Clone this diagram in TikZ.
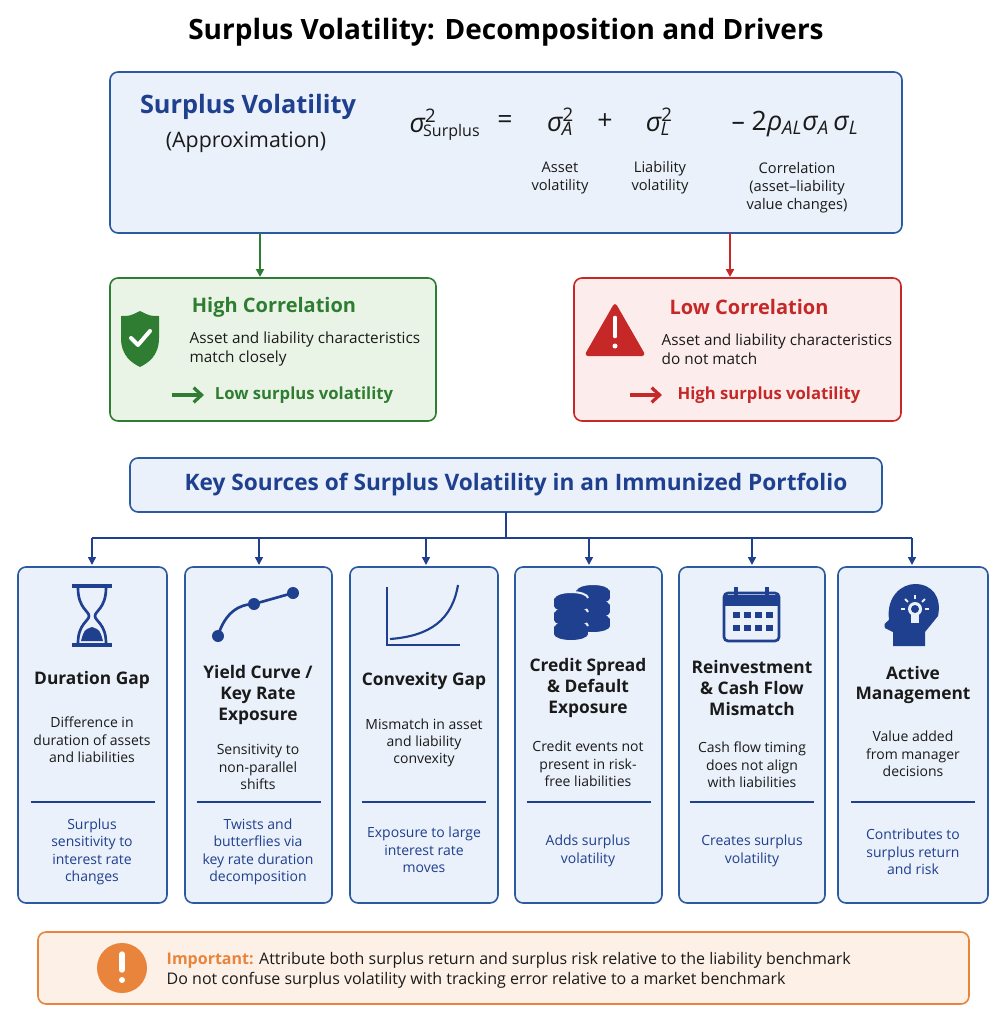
\documentclass[tikz,border=0pt]{standalone}
\usepackage{fontspec}
\setmainfont{Open Sans}
\usetikzlibrary{arrows.meta,positioning,calc}
\definecolor{navy}{HTML}{1F3F8F}
\definecolor{boxblue}{HTML}{2C5AA0}
\definecolor{fillblue}{HTML}{EAF1FA}
\definecolor{okgreen}{HTML}{2E7D32}
\definecolor{fillgreen}{HTML}{EAF4E6}
\definecolor{badred}{HTML}{C62828}
\definecolor{fillred}{HTML}{FCEDEC}
\definecolor{warnorange}{HTML}{E8843C}
\definecolor{fillorange}{HTML}{FDF0E6}
\definecolor{ink}{HTML}{1A1A1A}
\newcommand{\sig}[2]{{\itshape σ}\textsuperscript{#1}\kern-0.45em\textsubscript{\itshape #2}}
\begin{document}
\begin{tikzpicture}[x=0.75pt,y=-0.75pt,
    panel/.style ={draw=boxblue, line width=1.2pt, fill=fillblue, rounded corners=6pt},
    card/.style ={draw=boxblue, line width=1.2pt, fill=fillblue, rounded corners=6pt},
    card_title/.style ={font=\bfseries\fontsize{13}{15.5}\selectfont, text=ink, align=center},
    card_text/.style ={font=\fontsize{10.5}{13}\selectfont, text=ink, align=center},
    card_note/.style ={font=\fontsize{10.5}{13}\selectfont, text=navy, align=center},
    small_label/.style ={font=\fontsize{11}{13.5}\selectfont, text=ink, align=center},
    formula/.style ={font=\fontsize{20}{24}\selectfont, text=ink},
    line/.style ={draw=navy, line width=1.2pt, -{Triangle[length=6pt,width=6pt]}},
    icon/.style ={navy, line width=2pt}]
  \useasboundingbox (0,0) rectangle (1007,1024);
  % title
  \node[font=\bfseries\fontsize{21}{25}\selectfont, text=black] (title) at (506,32)
    {Surplus Volatility: Decomposition and Drivers};
  % formula panel
  \draw[panel] (110,72) rectangle (902,233);
  \node[font=\bfseries\fontsize{19}{22}\selectfont, text=navy] (svname) at (248,107) {Surplus Volatility};
  \node[font=\fontsize{16}{19}\selectfont, text=ink] (approx) at (246,142) {(Approximation)};
  \node[formula] (sigS) at (445,125) {{\itshape σ}\textsuperscript{2}\kern-0.5em\textsubscript{\fontsize{12}{14}\selectfont Surplus}};
  \node[formula] (eq) at (505,122) {=};
  \node[formula] (sigA) at (560,122) {\sig{2}{A}};
  \node[formula] (plus) at (605,122) {+};
  \node[formula] (sigL) at (658,122) {\sig{2}{L}};
  \node[formula] (cov) at (795,124) {– 2{\itshape ρ}\textsubscript{\itshape AL}{\itshape σ}\textsubscript{\itshape A}\,{\itshape σ}\textsubscript{\itshape L}};
  \node[small_label] (lblA) at (560,178) {Asset\\volatility};
  \node[small_label] (lblL) at (660,178) {Liability\\volatility};
  \node[small_label] (lblC) at (797,188) {Correlation\\(asset--liability\\value changes)};
  % high / low correlation boxes
  \draw[draw=okgreen, line width=1.2pt, fill=fillgreen, rounded corners=6pt] (110,278) rectangle (436,421);
  \draw[draw=badred, line width=1.2pt, fill=fillred, rounded corners=6pt] (574,278) rectangle (901,421);
  \coordinate (topL) at (260,233);
  \coordinate (topR) at (730,233);
  \coordinate (hiTop) at (260,277);
  \coordinate (loTop) at (730,277);
  \draw[line, draw=okgreen, line width=1.6pt] (topL) -- (hiTop);
  \draw[line, draw=badred, line width=1.6pt] (topR) -- (loTop);
  % shield
  \fill[okgreen] (140,311) .. controls (150,316) .. (159,316) -- (159,338)
    .. controls (159,356) and (148,363) .. (140,367) .. controls (132,363) and (121,356) .. (121,338)
    -- (121,316) .. controls (130,316) .. (140,311) -- cycle;
  \draw[white, line width=3pt, line cap=round, line join=round] (131,338) -- (138,345) -- (150,331);
  \node[font=\bfseries\fontsize{15}{18}\selectfont, text=okgreen] (hiname) at (274,307) {High Correlation};
  \node[font=\fontsize{11.5}{14}\selectfont, text=ink, align=left, anchor=west] (hitext) at (185,349)
    {Asset and liability characteristics\\match closely};
  \node[font=\bfseries\fontsize{12.5}{14}\selectfont, text=okgreen] (hires) at (304,395) {Low surplus volatility};
  \draw[okgreen, line width=2.4pt, -{Straight Barb[length=6pt,width=11pt]}] (172,395) -- (204,395);
  % warning triangle
  \fill[badred, rounded corners=3pt] (615,302) -- (646,356) -- (584,356) -- cycle;
  \draw[white, line width=3.5pt, line cap=round] (615,318) -- (615,336);
  \fill[white] (615,346) circle (2.5);
  \node[font=\bfseries\fontsize{15}{18}\selectfont, text=badred] (loname) at (749,307) {Low Correlation};
  \node[font=\fontsize{11.5}{14}\selectfont, text=ink, align=left, anchor=west] (lotext) at (657,349)
    {Asset and liability characteristics\\do not match};
  \node[font=\bfseries\fontsize{12.5}{14}\selectfont, text=badred] (lores) at (769,395) {High surplus volatility};
  \draw[badred, line width=2.4pt, -{Straight Barb[length=6pt,width=11pt]}] (630,395) -- (662,395);
  % key sources header
  \draw[panel] (130,458) rectangle (882,512);
  \node[font=\bfseries\fontsize{17}{21}\selectfont, text=navy] (keyhdr) at (516,485)
    {Key Sources of Surplus Volatility in an Immunized Portfolio};
  \coordinate (hub) at (506,512);
  \draw[navy, line width=1.2pt] (hub) -- (506,538) (92,538) -- (912,538);
  % six cards
  \foreach \xl/\xr in {18/167,185/332,350/498,515/662,679/825,838/988}{
    \draw[card] (\xl,567) rectangle (\xr,903);
    \draw[navy, line width=1pt] ($(\xl,0)!0.5!(\xr,0)+(-62,802)$) -- ++(124,0);
  }
  \foreach \xc in {92,259,426,589,752,912}
    \draw[line] (\xc,538) -- (\xc,565);
  % card 1
  \node[card_title] (durT) at (92,680) {Duration Gap};
  \node[card_text] (durD) at (92,740) {Difference in\\duration of assets\\and liabilities};
  \node[card_note] (durN) at (92,852) {Surplus\\sensitivity to\\interest rate\\changes};
  % card 2
  \node[card_title] (ycT) at (258,695) {Yield Curve /\\Key Rate\\Exposure};
  \node[card_text] (ycD) at (258,767) {Sensitivity to\\non-parallel\\shifts};
  \node[card_note] (ycN) at (258,852) {Twists and\\butterflies via\\key rate duration\\decomposition};
  % card 3
  \node[card_title] (cvT) at (424,681) {Convexity Gap};
  \node[card_text] (cvD) at (424,743) {Mismatch in asset\\and liability\\convexity};
  \node[card_note] (cvN) at (424,850) {Exposure to large\\interest rate\\moves};
  % card 4
  \node[card_title] (crT) at (588,688) {Credit Spread\\\& Default\\Exposure};
  \node[card_text] (crD) at (588,764) {Credit events not\\present in risk-\\free liabilities};
  \node[card_note] (crN) at (588,851) {Adds surplus\\volatility};
  % card 5
  \node[card_title] (rmT) at (752,688) {Reinvestment\\\& Cash Flow\\Mismatch};
  \node[card_text] (rmD) at (752,765) {Cash flow timing\\does not align\\with liabilities};
  \node[card_note] (rmN) at (752,851) {Creates surplus\\volatility};
  % card 6
  \node[card_title] (amT) at (913,685) {Active\\Management};
  \node[card_text] (amD) at (913,754) {Value added\\from manager\\decisions};
  \node[card_note] (amN) at (913,852) {Contributes to\\surplus return\\and risk};
  % icons
  \draw[icon, line width=3pt] (72,586) -- (112,586) (72,645) -- (112,645);
  \draw[icon] (78,588) .. controls (78,608) and (89,611) .. (89,616) .. controls (89,621) and (78,624) .. (78,643)
    (106,588) .. controls (106,608) and (95,611) .. (95,616) .. controls (95,621) and (106,624) .. (106,643);
  \fill[navy] (81,641) -- (103,641) .. controls (100,630) .. (92,627) .. controls (84,630) .. (81,641) -- cycle;
  \draw[icon] (218,636) .. controls (225,612) and (240,604) .. (254,604) -- (293,593);
  \foreach \p in {(218,636),(254,604),(293,593)} \fill[navy] \p circle (6);
  \draw[icon, line width=1.6pt] (387,587) -- (387,645) -- (460,645);
  \draw[icon, line width=1.6pt] (390,639) .. controls (430,636) and (452,620) .. (458,585);
  % coin stacks
  \foreach \cx/\cy in {593/618,593/604,593/590,571/626,571/612,571/598}{
    \fill[navy] (\cx-17,\cy) rectangle (\cx+17,\cy+8);
    \fill[navy] (\cx,\cy+8) ellipse (17 and 6);
    \fill[navy] (\cx,\cy) ellipse (17 and 6);
    \draw[fillblue, line width=1.5pt] (\cx-17,\cy) arc (180:360:17 and 6);
  }
  \draw[icon, rounded corners=3pt] (724,593) rectangle (779,641);
  \fill[navy] (724,595) rectangle (779,606);
  \draw[icon, line width=3pt] (736,587) -- (736,597) (767,587) -- (767,597);
  \foreach \cx in {736,747,758,769} \foreach \cy in {615,628} \fill[navy] (\cx-3,\cy-3) rectangle (\cx+4,\cy+3);
  \fill[navy] (925,646) -- (893,646) -- (893,632) -- (885,628) .. controls (884,624) .. (889,620)
    .. controls (886,596) and (902,584) .. (915,584) .. controls (932,584) and (942,597) .. (938,616)
    .. controls (932,624) .. (925,632) -- cycle;
  \fill[fillblue] (915,609) circle (7);
  \fill[fillblue] (911,612) rectangle (919,623);
  \fill[navy] (915,609) circle (4);
  \foreach \a in {90,135,45,180,0} \draw[fillblue, line width=1.4pt] ($(915,609)+(\a:-10)$) -- ($(915,609)+(\a:-14)$);
  % important note
  \draw[draw=warnorange, line width=1.2pt, fill=fillorange, rounded corners=6pt] (38,932) rectangle (969,1004);
  \fill[warnorange] (122,968) circle (25);
  \draw[white, line width=4pt, line cap=round] (122,954) -- (122,970);
  \fill[white] (122,980) circle (3);
  \node[font=\fontsize{12}{15}\selectfont, text=ink, anchor=west, align=left] (note) at (162,970)
    {\textcolor{warnorange}{\bfseries Important:} Attribute both surplus return and surplus risk relative to the liability benchmark\\
     Do not confuse surplus volatility with tracking error relative to a market benchmark};
\end{tikzpicture}
\end{document}
